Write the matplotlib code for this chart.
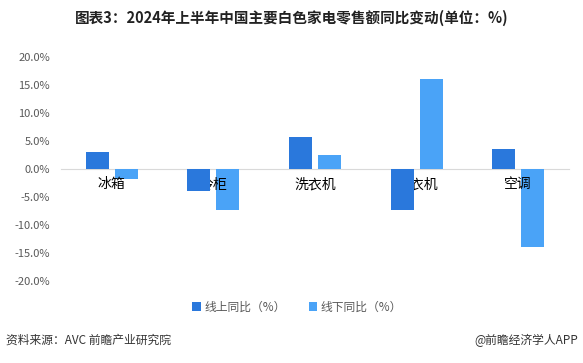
import numpy as np
import matplotlib.pyplot as plt

plt.rcParams['font.family'] = ['Noto Sans CJK SC', 'DejaVu Sans']

categories = ['冰箱', '冷柜', '洗衣机', '干衣机', '空调']
online = [3.0, -4.0, 5.8, -7.3, 3.6]
offline = [-1.7, -7.4, 2.5, 16.1, -13.9]
series_names = ['线上同比（%）', '线下同比（%）']
yticks = [-20, -15, -10, -5, 0, 5, 10, 15, 20]

c_on = '#2a78dc'
c_off = '#4aa3f7'

fig = plt.figure(figsize=(5.83, 3.63), dpi=100)
ax = fig.add_axes([61 / 583, 1 - 281 / 363, (569 - 61) / 583, (281 - 57) / 363])
ax.set_axisbelow(False)  # axis (and its labels) at zorder 2.5

x = np.arange(len(categories))
w = 0.225
gap = 0.03
# online bars drawn over the category labels, offline bars under them (as in the original)
ax.bar(x - w / 2 - gap, online, w, color=c_on, label=series_names[0], zorder=3)
ax.bar(x + w / 2 + gap, offline, w, color=c_off, label=series_names[1], zorder=2)

ax.set_xlim(-0.5, len(categories) - 0.5)
ax.set_ylim(-20, 20)
ax.set_yticks(yticks)
ax.set_yticklabels(['{:.1f}%'.format(v) for v in yticks], color='#595959', fontsize=8)
ax.tick_params(axis='y', length=0, pad=8)

ax.set_xticks(x)
ax.set_xticklabels(categories, color='#595959', fontsize=9)
ax.tick_params(axis='x', length=0, pad=6)

for s in ['top', 'right', 'left']:
    ax.spines[s].set_visible(False)
ax.spines['bottom'].set_position(('data', 0))
ax.spines['bottom'].set_color('#d9d9d9')
ax.spines['bottom'].set_zorder(0)

leg = fig.legend(loc='center', bbox_to_anchor=(0.51, 1 - 307 / 363), ncol=2, frameon=False,
                 fontsize=8.5, handlelength=0.7, handleheight=0.7, handletextpad=0.3,
                 columnspacing=2.0)
for t in leg.get_texts():
    t.set_color('#595959')

fig.text(0.5, 1 - 18 / 363, '图表3：2024年上半年中国主要白色家电零售额同比变动(单位：%)',
         ha='center', va='center', fontsize=10.5, fontweight='bold', color='#222222')
fig.text(6 / 583, 1 - 340 / 363, '资料来源：AVC 前瞻产业研究院', ha='left', va='center',
         fontsize=8.5, color='#333333')
fig.text(578 / 583, 1 - 340 / 363, '@前瞻经济学人APP', ha='right', va='center',
         fontsize=8.5, color='#333333')

fig.savefig('out.png', dpi=100)
